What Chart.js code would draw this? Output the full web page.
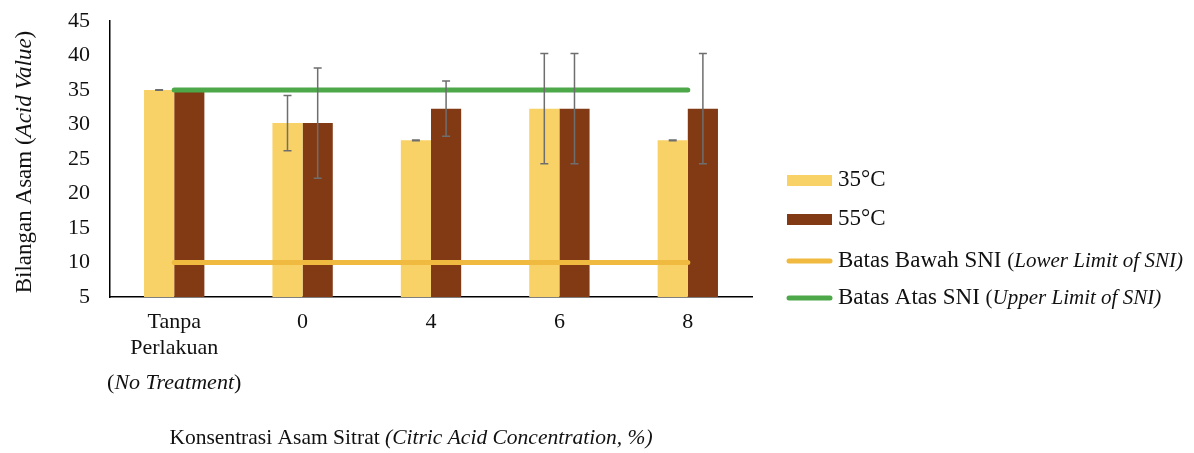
<!DOCTYPE html>
<html>
<head>
<meta charset="utf-8">
<script src="https://cdn.jsdelivr.net/npm/chart.js@4"></script>
<style>
  body { margin: 0; background: #fff; }
  #wrap { width: 1194px; height: 453px; position: relative; }
</style>
</head>
<body>
<div id="wrap"><canvas id="acidChart"></canvas></div>
<script>
// categories (last line of the first label is drawn in italic by the text plugin)
const categories = [["Tanpa", "Perlakuan"], "0", "4", "6", "8"];
const firstCatNote = "No Treatment";

const acid35 = [35, 30.2, 27.7, 32.3, 27.7];
const acid55 = [35, 30.2, 32.3, 32.3, 32.3];
const err35 = [0.05, 4, 0.05, 8, 0.05];
const err55 = [0, 8, 4, 8, 8];
const lowerSNI = [10, 10, 10, 10, 10];
const upperSNI = [35, 35, 35, 35, 35];

const yMin = 5;
const yMax = 45;
const yStep = 5;

const SERIF = "'Liberation Serif', 'Times New Roman', serif";
const colYellow = "#f8d266";
const colBrown = "#823a14";
const colOrange = "#f0b93f";
const colGreen = "#4da849";

function drawMixed(ctx, parts, x, y, align) {
  let total = 0;
  parts.forEach(p => { ctx.font = p.font; total += ctx.measureText(p.text).width; });
  let cx = align === "center" ? x - total / 2 : x;
  ctx.textAlign = "left";
  ctx.textBaseline = "middle";
  parts.forEach(p => {
    ctx.font = p.font;
    ctx.fillText(p.text, cx, y);
    cx += ctx.measureText(p.text).width;
  });
}

const errorBars = {
  id: "errorBars",
  afterDatasetsDraw(chart) {
    const ctx = chart.ctx;
    const y = chart.scales.y;
    const sets = [[0, acid35, err35], [1, acid55, err55]];
    ctx.save();
    ctx.strokeStyle = "#6e6e6e";
    ctx.lineWidth = 1.5;
    sets.forEach(([idx, vals, errs]) => {
      const meta = chart.getDatasetMeta(idx);
      meta.data.forEach((bar, i) => {
        if (!errs[i]) return;
        const top = y.getPixelForValue(vals[i] + errs[i]);
        const bot = y.getPixelForValue(vals[i] - errs[i]);
        ctx.beginPath();
        ctx.moveTo(bar.x, top); ctx.lineTo(bar.x, bot);
        ctx.moveTo(bar.x - 4, top); ctx.lineTo(bar.x + 4, top);
        ctx.moveTo(bar.x - 4, bot); ctx.lineTo(bar.x + 4, bot);
        ctx.stroke();
      });
    });
    ctx.restore();
  }
};

const textPlugin = {
  id: "texts",
  afterDraw(chart) {
    const ctx = chart.ctx;
    const xs = chart.scales.x;
    ctx.save();
    ctx.fillStyle = "#111";

    // italic third line under the first category
    drawMixed(ctx, [
      { text: "(", font: "22px " + SERIF },
      { text: firstCatNote, font: "italic 22px " + SERIF },
      { text: ")", font: "22px " + SERIF }
    ], xs.getPixelForValue(0), 383, "center");

    // x title
    drawMixed(ctx, [
      { text: "Konsentrasi Asam Sitrat ", font: "21.5px " + SERIF },
      { text: "(Citric Acid Concentration, %)", font: "italic 21.5px " + SERIF }
    ], 411, 438, "center");

    // y title
    ctx.save();
    ctx.translate(25, 162);
    ctx.rotate(-Math.PI / 2);
    drawMixed(ctx, [
      { text: "Bilangan Asam (", font: "23px " + SERIF },
      { text: "Acid Value", font: "italic 23px " + SERIF },
      { text: ")", font: "23px " + SERIF }
    ], 0, 0, "center");
    ctx.restore();

    // legend
    const lx = 787, lw = 45, tx = 838;
    ctx.fillStyle = colYellow;
    ctx.fillRect(lx, 175, lw, 11);
    ctx.fillStyle = colBrown;
    ctx.fillRect(lx, 214, lw, 11);
    ctx.lineCap = "round";
    ctx.lineWidth = 5;
    ctx.strokeStyle = colOrange;
    ctx.beginPath(); ctx.moveTo(lx + 2, 261); ctx.lineTo(lx + lw - 2, 261); ctx.stroke();
    ctx.strokeStyle = colGreen;
    ctx.beginPath(); ctx.moveTo(lx + 2, 298); ctx.lineTo(lx + lw - 2, 298); ctx.stroke();

    ctx.fillStyle = "#111";
    drawMixed(ctx, [{ text: "35°C", font: "23px " + SERIF }], tx, 180, "left");
    drawMixed(ctx, [{ text: "55°C", font: "23px " + SERIF }], tx, 219, "left");
    drawMixed(ctx, [
      { text: "Batas Bawah SNI ", font: "23px " + SERIF },
      { text: "(", font: "21px " + SERIF },
      { text: "Lower Limit of SNI)", font: "italic 21px " + SERIF }
    ], tx, 261, "left");
    drawMixed(ctx, [
      { text: "Batas Atas SNI ", font: "23px " + SERIF },
      { text: "(", font: "21px " + SERIF },
      { text: "Upper Limit of SNI)", font: "italic 21px " + SERIF }
    ], tx, 298, "left");
    ctx.restore();
  }
};

new Chart(document.getElementById("acidChart"), {
  type: "bar",
  data: {
    labels: categories,
    datasets: [
      { label: "35°C", data: acid35, backgroundColor: colYellow, order: 2 },
      { label: "55°C", data: acid55, backgroundColor: colBrown, order: 2 },
      {
        type: "line", label: "Batas Bawah SNI", data: lowerSNI,
        borderColor: colOrange, borderWidth: 5, borderCapStyle: "round",
        pointRadius: 0, tension: 0, order: 1
      },
      {
        type: "line", label: "Batas Atas SNI", data: upperSNI,
        borderColor: colGreen, borderWidth: 5, borderCapStyle: "round",
        pointRadius: 0, tension: 0, order: 1
      }
    ]
  },
  options: {
    responsive: true,
    maintainAspectRatio: false,
    animation: false,
    datasets: { bar: { categoryPercentage: 0.47, barPercentage: 1.0 } },
    layout: { padding: { top: 21, right: 442, bottom: 0, left: 0 } },
    plugins: {
      legend: { display: false },
      tooltip: { enabled: false }
    },
    scales: {
      x: {
        offset: true,
        grid: { display: false, drawTicks: false },
        border: { display: true, color: "#000", width: 1.5 },
        ticks: { color: "#111", padding: 12, font: { family: SERIF, size: 22 } },
        afterFit(scale) { scale.height = 156; }
      },
      y: {
        min: yMin,
        max: yMax,
        grid: { display: false, drawTicks: false },
        border: { display: true, color: "#000", width: 1.5 },
        ticks: { stepSize: yStep, color: "#111", padding: 20, font: { family: SERIF, size: 22 } },
        afterFit(scale) {
          scale.width = 110;
          scale.paddingTop = 0;
          scale.paddingBottom = 0;
        }
      }
    }
  },
  plugins: [errorBars, textPlugin]
});
</script>
</body>
</html>
